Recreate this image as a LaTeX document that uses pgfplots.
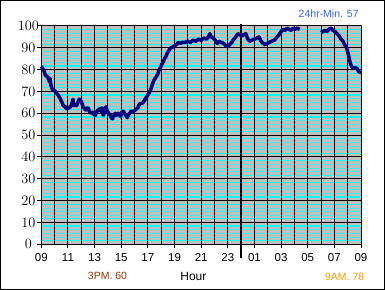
\documentclass[border=0pt]{standalone}
\usepackage{pgfplots}
\pgfplotsset{compat=1.18}
\usepackage{fontspec}
\setmainfont{Liberation Sans}
\definecolor{bggray}{HTML}{C0C0C0}
\definecolor{framegray}{HTML}{808080}
\definecolor{navyc}{HTML}{000080}
\definecolor{brownc}{HTML}{993300}
\definecolor{orangec}{HTML}{FF9900}
\definecolor{bluec}{HTML}{3366FF}
\definecolor{cyanc}{HTML}{00FFFF}
\begin{document}
\begin{tikzpicture}[x=1bp,y=1bp]
\useasboundingbox (0,0) rectangle (385,290);
\fill[white] (0,0) rectangle (385,290);
\draw[black, line width=1bp] (0.5,0.5) rectangle (384.5,289.5);
% background layer: gray plot area and cyan minor lines
\begin{axis}[at={(41.3bp,45.7bp)}, anchor=south west, scale only axis,
  width=319.7bp, height=218.3bp,
  xmin=0, xmax=24, ymin=0, ymax=100,
  axis background/.style={fill=bggray},
  xtick=\empty,
  ytick={1.667,8.333,11.667,18.333,21.667,28.333,31.667,38.333,41.667,48.333,51.667,58.333,61.667,68.333,71.667,78.333,81.667,88.333,91.667,98.333},
  minor ytick={3.333,5,6.667,13.333,15,16.667,23.333,25,26.667,33.333,35,36.667,43.333,45,46.667,53.333,55,56.667,63.333,65,66.667,73.333,75,76.667,83.333,85,86.667,93.333,95,96.667},
  yticklabels={},
  grid=both,
  major grid style={cyanc, line width=1.3bp},
  minor grid style={cyanc!70!bggray, line width=0.7bp},
  major tick length=0pt, minor tick length=0pt,
  axis line style={framegray, line width=1bp},
]
\end{axis}
% foreground layer: black grid, axes, curve
\begin{axis}[at={(41.3bp,45.7bp)}, anchor=south west, scale only axis,
  width=319.7bp, height=218.3bp,
  xmin=0, xmax=24, ymin=0, ymax=100,
  axis lines=left,
  axis line style={-, black, line width=1bp},
  xtick={0,2,...,24},
  xticklabels={09,11,13,15,17,19,21,23,01,03,05,07,09},
  minor x tick num=1,
  ytick={0,10,...,100},
  grid=both,
  major grid style={black, line width=1bp},
  minor grid style={black, line width=1bp},
  tick align=outside,
  major tick length=4bp, minor tick length=0pt,
  tick style={black, line width=1bp},
  clip=false,
  xticklabel style={font=\fontsize{11.5bp}{12bp}\selectfont, yshift=-2bp},
  yticklabel style={font=\fontsize{13.5bp}{14bp}\selectfont, anchor=center, xshift=-9bp},
]
\addplot[black, line width=2bp, forget plot] coordinates {(15,-6.3) (15,100.9)};
\addplot[navyc, line width=3.5bp, line join=round, mark=none] coordinates {
(0.00,81.5) (0.10,80.5) (0.20,79.5) (0.30,77.5) (0.40,77.0) (0.50,76.5)
(0.60,74.5) (0.65,76.0) (0.72,73.0) (0.80,71.5) (0.90,70.5) (1.00,70.5)
(1.10,69.5) (1.25,68.5) (1.40,67.0) (1.55,65.0) (1.65,63.5) (1.80,63.0)
(1.90,62.0) (2.05,62.5) (2.20,63.0) (2.30,64.5) (2.38,66.5) (2.45,63.5)
(2.55,64.0) (2.65,63.5) (2.75,65.0) (2.85,66.5) (2.95,66.0) (3.05,64.5)
(3.15,63.0) (3.25,62.0) (3.35,61.5) (3.45,62.5) (3.55,62.0) (3.65,60.5)
(3.75,60.0) (3.85,60.5) (3.95,59.5) (4.05,59.0) (4.15,60.5) (4.25,61.5)
(4.35,62.0) (4.45,61.0) (4.55,62.5) (4.65,59.0) (4.75,60.5) (4.85,63.0)
(4.95,61.0) (5.05,60.0) (5.15,59.5) (5.25,58.0) (5.35,57.5) (5.45,59.0)
(5.55,60.0) (5.65,59.0) (5.75,60.0) (5.85,59.5) (5.95,58.5) (6.05,60.5)
(6.15,61.0) (6.25,60.0) (6.35,59.0) (6.45,58.0) (6.55,59.5) (6.65,60.0)
(6.75,61.0) (6.85,60.5) (6.95,61.0) (7.05,61.5) (7.15,62.0) (7.25,62.5)
(7.35,64.0) (7.45,64.5) (7.55,64.5) (7.65,65.0) (7.75,66.0) (7.85,67.0)
(7.95,68.0) (8.05,69.0) (8.15,70.0) (8.25,71.5) (8.35,73.5) (8.45,75.0)
(8.55,76.0) (8.65,77.0) (8.75,78.0) (8.85,80.0) (8.95,81.0) (9.05,82.5)
(9.15,83.5) (9.25,85.0) (9.35,86.0) (9.45,87.5) (9.55,88.5) (9.65,89.5)
(9.75,90.0) (9.90,90.5) (10.0,91.0) (10.15,91.5) (10.3,92.5) (10.45,92.0)
(10.6,92.5) (10.8,92.5) (11.0,93.0) (11.2,92.5) (11.4,93.5) (11.6,93.0)
(11.8,94.0) (12.0,93.5) (12.2,94.5) (12.4,94.0) (12.55,95.0) (12.65,96.5)
(12.75,95.0) (12.9,94.5) (13.05,93.5) (13.2,92.0) (13.35,93.0) (13.5,92.5)
(13.7,92.0) (13.85,91.0) (14.0,90.5) (14.15,91.5) (14.3,92.5) (14.45,94.0)
(14.6,95.0) (14.75,96.5) (14.9,96.0) (15.05,95.5) (15.2,96.0) (15.35,96.5)
(15.5,94.0) (15.65,93.0) (15.8,93.5) (16.0,94.0) (16.2,94.5) (16.35,95.0)
(16.5,93.0) (16.65,92.0) (16.8,91.5) (16.95,92.0) (17.1,92.5) (17.3,93.0)
(17.5,93.5) (17.7,95.0) (17.85,96.0) (18.0,97.5) (18.15,98.5) (18.3,98.0)
(18.45,99.0) (18.6,98.5) (18.75,98.0) (18.9,99.0) (19.05,98.5) (19.2,99.0)
(19.4,98.5)
};
\addplot[navyc, line width=3.5bp, line join=round, mark=none] coordinates {
(21.0,97.0) (21.15,97.5) (21.3,98.0) (21.45,97.5) (21.6,98.5) (21.75,99.0)
(21.9,98.0) (22.05,97.5) (22.2,96.5) (22.35,95.5) (22.5,94.0) (22.65,93.0)
(22.75,91.5) (22.9,90.5) (23.05,87.0) (23.15,84.0) (23.25,82.0) (23.4,80.5)
(23.55,81.0) (23.7,80.5) (23.85,79.0) (24.0,78.5)
};
\end{axis}
\node[text=brownc, font=\fontsize{10.5bp}{12bp}\selectfont] at (107.5,14) {3PM. 60};
\node[text=black, font=\fontsize{12bp}{14bp}\selectfont] at (193.4,14) {Hour};
\node[text=orangec, font=\fontsize{10.5bp}{12bp}\selectfont] at (344.7,13) {9AM. 78};
\node[text=bluec, font=\fontsize{10.5bp}{12bp}\selectfont] at (328.7,276) {24hr-Min. 57};
\end{tikzpicture}
\end{document}
